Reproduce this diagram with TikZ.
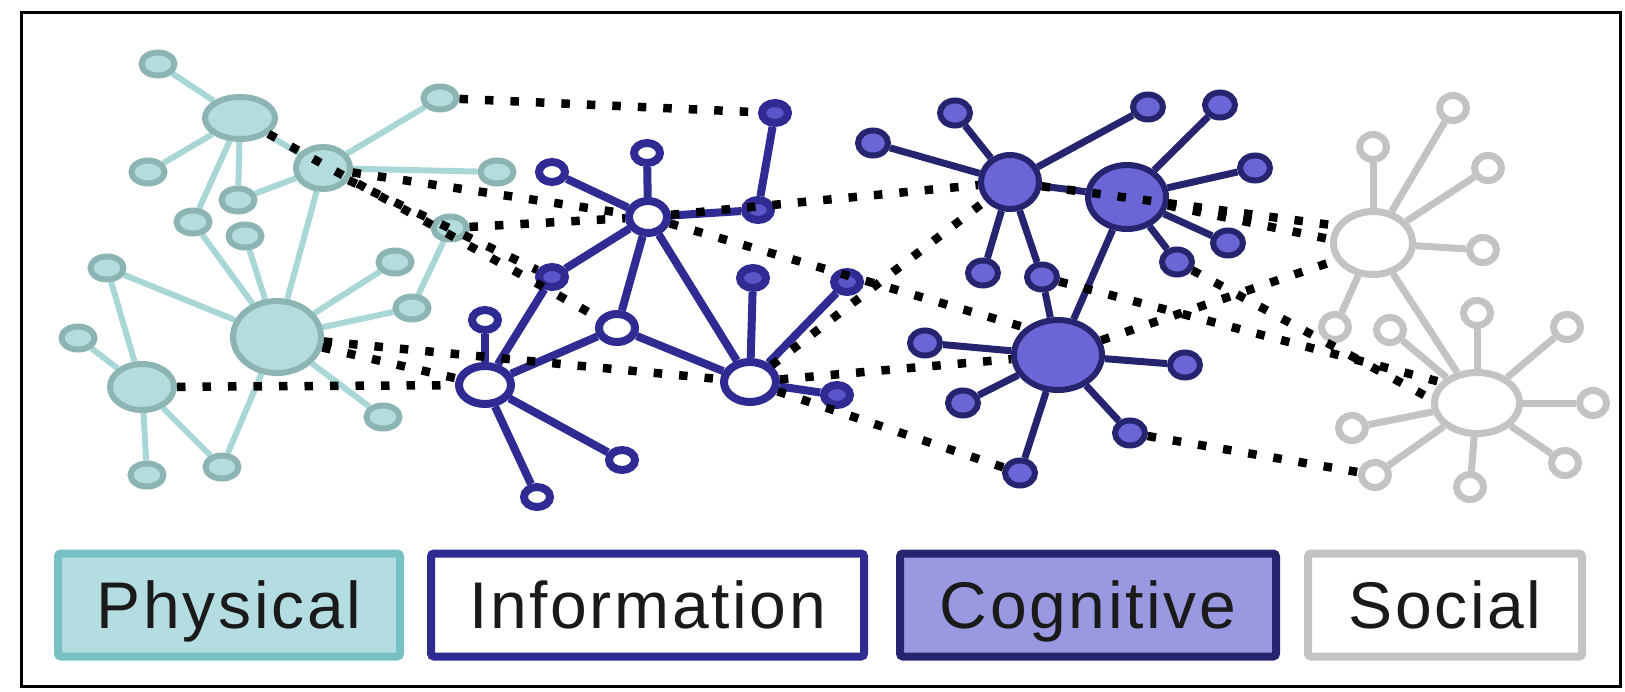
\documentclass[tikz,border=0pt]{standalone}
\usepackage{fontspec}
\setmainfont{Liberation Sans}
\newfontfamily\legendfont[LetterSpace=4]{Liberation Sans}
\usetikzlibrary{shapes.geometric}

\definecolor{physEdge}{HTML}{A9D7D8}
\definecolor{physLine}{HTML}{8CB4B2}
\definecolor{physFill}{HTML}{B4DCDE}
\definecolor{infoLine}{HTML}{2F2B93}
\definecolor{infoDot}{HTML}{5A55C8}
\definecolor{cogLine}{HTML}{27246F}
\definecolor{cogFill}{HTML}{6A66D6}
\definecolor{socLine}{HTML}{C3C3C3}
\definecolor{legPhysLine}{HTML}{79C0C5}
\definecolor{legPhysFill}{HTML}{B3DDE1}
\definecolor{legCogFill}{HTML}{9A98E0}
\definecolor{legText}{HTML}{1A1A1A}

\pgfdeclarelayer{links}
\pgfdeclarelayer{ties}
\pgfsetlayers{links,main,ties}

\tikzset{
  sz/.style 2 args={minimum width=#1pt, minimum height=#2pt},
  blob/.style={ellipse, inner sep=0pt},
  phys/.style={blob, draw=physLine, fill=physFill, line width=6pt},
  psmall/.style={phys, sz={33}{23}},
  info/.style={blob, draw=infoLine, fill=white, line width=8pt},
  ismall/.style={info, sz={26}{20}},
  ifull/.style={ismall, fill=infoDot},
  cog/.style={blob, draw=cogLine, fill=cogFill, line width=6pt},
  csmall/.style={cog, sz={30}{25}},
  soc/.style={blob, draw=socLine, fill=white, line width=7pt},
  ssmall/.style={soc, sz={27}{25}},
  pedge/.style={draw=physEdge, line width=6pt},
  iedge/.style={draw=infoLine, line width=8pt},
  cedge/.style={draw=cogLine, line width=7pt},
  sedge/.style={draw=socLine, line width=7pt},
  tie/.style={draw=black, line width=8.5pt, dash pattern=on 8.5pt off 17pt},
  legend/.style={rectangle, rounded corners=3pt, line width=8pt,
    minimum height=103pt, text height=47pt, text depth=0pt, inner sep=0pt,
    text=legText, font=\legendfont\fontsize{66}{66}\selectfont},
}

\begin{document}
\begin{tikzpicture}[x=1pt,y=-1pt]
\useasboundingbox (0,0) rectangle (1625,691);
\draw[line width=3pt] (21,12) rectangle (1620,686);

% physical domain
\node[psmall] (P1) at (158,64) {};
\node[phys, sz={70}{42}] (P2) at (240,118) {};
\node[phys, sz={54}{42}] (P3) at (323,168) {};
\node[psmall] (P4) at (440,98) {};
\node[psmall] (P5) at (148,172) {};
\node[psmall] (P6) at (497,172) {};
\node[psmall] (P7) at (238,200) {};
\node[psmall] (P8) at (193,222) {};
\node[psmall] (P9) at (245,236) {};
\node[psmall] (P10) at (450,228) {};
\node[psmall] (P11) at (107,268) {};
\node[psmall] (P12) at (395,262) {};
\node[phys, sz={88}{72}] (P13) at (277,337) {};
\node[psmall] (P14) at (412,308) {};
\node[psmall] (P15) at (78,338) {};
\node[phys, sz={64}{46}] (P16) at (142,387) {};
\node[psmall] (P17) at (383,417) {};
\node[psmall] (P18) at (147,475) {};
\node[psmall] (P19) at (222,467) {};

% information domain
\node[info, sz={38}{32}] (Ia) at (648,217) {};
\node[ismall] (Ib) at (647,153) {};
\node[ismall] (Ic) at (552,172) {};
\node[ifull] (Id) at (758,210) {};
\node[ifull] (I1) at (775,113) {};
\node[ifull] (Ie) at (552,277) {};
\node[info, sz={36}{28}] (If) at (617,328) {};
\node[info, sz={52}{38}] (Ig) at (485,385) {};
\node[ismall] (Ih) at (485,320) {};
\node[info, sz={52}{40}] (Ii) at (750,382) {};
\node[ifull] (Ij) at (753,278) {};
\node[ifull] (Ik) at (837,395) {};
\node[ifull] (Il) at (847,282) {};
\node[ismall] (Im) at (622,460) {};
\node[ismall] (In) at (537,497) {};

% cognitive domain
\node[cog, sz={58}{54}] (C1) at (1010,182) {};
\node[cog, sz={78}{64}] (C2) at (1127,197) {};
\node[cog, sz={88}{70}] (C3) at (1058,355) {};
\node[csmall] (c1) at (955,113) {};
\node[csmall] (c2) at (873,143) {};
\node[csmall] (c3) at (1148,107) {};
\node[csmall] (c4) at (1220,105) {};
\node[csmall] (c5) at (1255,168) {};
\node[csmall] (c6) at (1228,243) {};
\node[csmall] (c7) at (1177,262) {};
\node[csmall] (c8) at (983,273) {};
\node[csmall] (c9) at (1042,277) {};
\node[csmall] (c10) at (925,343) {};
\node[csmall] (c11) at (1185,365) {};
\node[csmall] (c12) at (963,403) {};
\node[csmall] (c13) at (1130,433) {};
\node[csmall] (c14) at (1020,473) {};

% social domain
\node[soc, sz={79}{63}] (S1) at (1373,243) {};
\node[soc, sz={85}{61}] (S2) at (1477,403) {};
\node[ssmall] (s1) at (1373,147) {};
\node[ssmall] (s2) at (1453,108) {};
\node[ssmall] (s3) at (1488,168) {};
\node[ssmall] (s4) at (1483,250) {};
\node[ssmall] (s5) at (1335,327) {};
\node[ssmall] (s6) at (1390,330) {};
\node[ssmall] (s7) at (1477,313) {};
\node[ssmall] (s8) at (1567,327) {};
\node[ssmall] (s9) at (1593,403) {};
\node[ssmall] (s10) at (1565,463) {};
\node[ssmall] (s11) at (1470,487) {};
\node[ssmall] (s12) at (1375,475) {};
\node[ssmall] (s13) at (1352,428) {};

% links inside each domain
\begin{pgfonlayer}{links}
  \foreach \a/\b in {P1/P2,P2/P5,P2/P8,P2/P7,P2/P3,P3/P4,P3/P6,P3/P7,P3/P13,
      P9/P13,P8/P13,P11/P13,P12/P13,P14/P13,P17/P13,P19/P13,P11/P16,
      P15/P16,P16/P18,P16/P19,P14/P10}
    \draw[pedge] (\a) -- (\b);
  \foreach \a/\b in {Ia/Ib,Ia/Ic,Ia/Id,Id/I1,Ia/Ie,Ia/If,Ia/Ii,Ie/Ig,If/Ig,
      If/Ii,Ig/Ih,Ig/Im,Ig/In,Ii/Ij,Ii/Ik,Ii/Il}
    \draw[iedge] (\a) -- (\b);
  \foreach \a/\b in {C1/c1,C1/c2,C1/c3,C1/C2,C1/c8,C1/c9,c9/C3,C2/c4,C2/c5,
      C2/c6,C2/c7,C2/C3,C3/c10,C3/c11,C3/c12,C3/c13,C3/c14}
    \draw[cedge] (\a) -- (\b);
  \foreach \a/\b in {S1/s1,S1/s2,S1/s3,S1/s4,S1/s5,S1/S2,S2/s6,S2/s7,S2/s8,
      S2/s9,S2/s10,S2/s11,S2/s12,S2/s13}
    \draw[sedge] (\a) -- (\b);
\end{pgfonlayer}

% dotted ties between domains
\begin{pgfonlayer}{ties}
  \draw[tie] (P4) -- (I1);
  \draw[tie] (P2) -- (If);
  \draw[tie] (P3) -- (Ie);
  \draw[tie] (P3) -- (Ia);
  \draw[tie] (P10) -- (Ia);
  \draw[tie] (P13) -- (Ii);
  \draw[tie] (P13) -- (Ig);
  \draw[tie] (P16) -- (Ig);
  \draw[tie] (Ia) -- (C1);
  \draw[tie] (Ia) -- (C3.140);
  \draw[tie] (Ii) -- (C1);
  \draw[tie] (Ii) -- (C3);
  \draw[tie] (Ii) -- (c14);
  \draw[tie] (C1) -- (S1.155);
  \draw[tie] (C2) -- (S1.175);
  \draw[tie] (C3) -- (S1.205);
  \draw[tie] (c9) -- (S2.150);
  \draw[tie] (c7) -- (S2.175);
  \draw[tie] (c13) -- (s12);
\end{pgfonlayer}

% legend
\node[legend, draw=legPhysLine, fill=legPhysFill, minimum width=342pt] (Lphys) at (229,605) {Physical};
\node[legend, draw=infoLine, fill=white, minimum width=433pt] (Linfo) at (647.5,605) {Information};
\node[legend, draw=cogLine, fill=legCogFill, minimum width=376pt] (Lcog) at (1088,605) {Cognitive};
\node[legend, draw=socLine, fill=white, minimum width=274pt] (Lsoc) at (1445,605) {Social};
\end{tikzpicture}
\end{document}
